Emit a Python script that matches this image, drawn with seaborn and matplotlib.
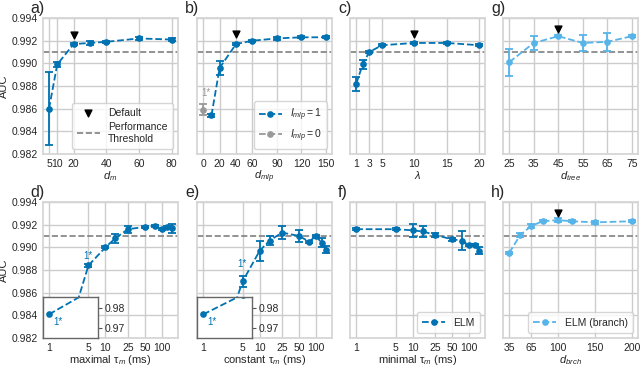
import matplotlib
matplotlib.use("Agg")
import numpy as np
import pandas as pd
import seaborn as sns
import matplotlib.pyplot as plt
from matplotlib.ticker import NullLocator

# ---- data ----
# a) d_m
a_x = [5, 10, 20, 30, 40, 60, 80]
a_y = [0.9860, 0.9899, 0.9917, 0.9918, 0.9919, 0.9922, 0.9921]
a_err = [0.0032, 0.0002, 0.0001, 0.0002, 0.0001, 0.0001, 0.0001]

# b) d_mlp, I_mlp = 1 and I_mlp = 0
b_x = [10, 20, 40, 60, 90, 120, 150]
b_y = [0.9854, 0.9896, 0.9917, 0.9920, 0.9922, 0.9923, 0.9923]
b_err = [0.0001, 0.0006, 0.0001, 0.0001, 0.0001, 0.0001, 0.0001]
b0_x = [0]
b0_y = [0.9859]
b0_err = [0.0005]

# c) lambda
c_x = [1, 2, 3, 5, 10, 15, 20]
c_y = [0.9882, 0.9899, 0.9910, 0.9916, 0.9918, 0.9918, 0.9916]
c_err = [0.0006, 0.0004, 0.0001, 0.0001, 0.0001, 0.0001, 0.0001]

# g) d_tree
g_x = [25, 35, 45, 55, 65, 75]
g_y = [0.9901, 0.9918, 0.9924, 0.9918, 0.9919, 0.9924]
g_err = [0.0012, 0.0006, 0.0001, 0.0007, 0.0008, 0.0001]

# d) e) f) tau_m (ms)
tau_x = [1, 5, 10, 15, 25, 50, 75, 100, 125, 150]
d_y = [0.9770, 0.9884, 0.9900, 0.9908, 0.9916, 0.9918, 0.9919, 0.9916, 0.9918, 0.9917]
d_err = [0.0001, 0.0001, 0.0001, 0.0004, 0.0003, 0.0001, 0.0001, 0.0001, 0.0001, 0.0004]
e_y = [0.9770, 0.9870, 0.9897, 0.9906, 0.9913, 0.9910, 0.9905, 0.9910, 0.9904, 0.9898]
e_err = [0.0001, 0.0005, 0.0009, 0.0004, 0.0006, 0.0005, 0.0001, 0.0001, 0.0004, 0.0003]
f_y = [0.9916, 0.9916, 0.9915, 0.9914, 0.9911, 0.9907, 0.9906, 0.9902, 0.9902, 0.9897]
f_err = [0.0001, 0.0001, 0.0006, 0.0005, 0.0002, 0.0001, 0.0008, 0.0001, 0.0001, 0.0003]

# h) d_brch
h_x = [35, 50, 65, 80, 100, 120, 150, 200]
h_y = [0.9895, 0.9911, 0.9919, 0.9923, 0.9924, 0.9923, 0.9922, 0.9923]
h_err = [0.0001, 0.0002, 0.0002, 0.0001, 0.0002, 0.0001, 0.0001, 0.0001]

# default settings (triangle markers)
default_x = {"a": 20, "b": 40, "c": 10, "g": 45, "h": 100}
default_y = {"a": 0.9925, "b": 0.9926, "c": 0.9926, "g": 0.9930, "h": 0.9930}

threshold = 0.991

# ---- style ----
sns.set_theme(style="whitegrid")
plt.rcParams["font.family"] = ["Liberation Sans", "DejaVu Sans"]
plt.rcParams["mathtext.fontset"] = "custom"
plt.rcParams["mathtext.rm"] = "Liberation Sans"
plt.rcParams["mathtext.it"] = "Liberation Sans:italic"

blue = "#0072B2"
light = "#56B4E9"
grey = "#999999"

fig = plt.figure(figsize=(6.4, 3.65), dpi=100)
w, h = 0.211, 0.3726
lefts = [0.067, 0.308, 0.547, 0.786]
top_b, bot_b = 0.578, 0.074

axes = {}
for name, l in zip(["a", "b", "c", "g"], lefts):
    axes[name] = fig.add_axes([l, top_b, w, h])
for name, l in zip(["d", "e", "f", "h"], lefts):
    axes[name] = fig.add_axes([l, bot_b, w, h])


def draw(ax, x, y, err, color, label=None, ms=4.8):
    ax.errorbar(x, y, yerr=err, fmt="none", ecolor=color, elinewidth=1.3,
                capsize=2.6, capthick=1.3, zorder=3)
    sns.lineplot(x=x, y=y, ax=ax, color=color, marker="o", markersize=ms,
                 markeredgewidth=0, linestyle="--", linewidth=1.3,
                 label=label, zorder=4)


draw(axes["a"], a_x, a_y, a_err, blue)
draw(axes["b"], b_x, b_y, b_err, blue, label="$I_{mlp} = 1$")
draw(axes["b"], b0_x, b0_y, b0_err, grey, label="$I_{mlp} = 0$")
draw(axes["c"], c_x, c_y, c_err, blue)
draw(axes["g"], g_x, g_y, g_err, light)
draw(axes["d"], tau_x, d_y, d_err, blue)
draw(axes["e"], tau_x, e_y, e_err, blue)
draw(axes["f"], tau_x, f_y, f_err, blue, label="ELM")
draw(axes["h"], h_x, h_y, h_err, light, label="ELM (branch)")

yt = np.arange(0.982, 0.9945, 0.002)
for name, ax in axes.items():
    ax.axhline(threshold, color="#808080", linestyle="--", linewidth=1.2,
               zorder=2, label="Performance\nThreshold" if name == "a" else None)
    if name in default_x:
        ax.scatter([default_x[name]], [default_y[name]], marker="v", color="black",
                   s=24, zorder=5, label="Default" if name == "a" else None)
    ax.set_ylim(0.982, 0.994)
    ax.set_yticks(yt)
    ax.tick_params(labelsize=7.5, length=0, pad=3.5)
    for sp in ax.spines.values():
        sp.set_color("#d5d5d5")
    if name in ("a", "d"):
        ax.set_yticklabels([f"{v:.3f}" for v in yt])
        ax.set_ylabel("AUC", fontsize=8)
        ax.yaxis.set_label_coords(-0.25, 0.5)
    else:
        ax.tick_params(labelleft=False)
    ax.text(-0.09, 1.012, name + ")", transform=ax.transAxes, fontsize=11.5,
            ha="left", va="bottom")

xl_kw = dict(fontsize=8, labelpad=0)
axes["a"].set_xticks([5, 10, 20, 40, 60, 80])
axes["a"].set_xlabel("$d_m$", **xl_kw)
axes["b"].set_xticks([0, 20, 40, 60, 90, 120, 150])
axes["b"].set_xlabel("$d_{mlp}$", **xl_kw)
axes["c"].set_xticks([1, 3, 5, 10, 15, 20])
axes["c"].set_xlabel("$\\lambda$", **xl_kw)
axes["g"].set_xticks([25, 35, 45, 55, 65, 75])
axes["g"].set_xlabel("$d_{tree}$", **xl_kw)
axes["h"].set_xticks([35, 65, 100, 150, 200])
axes["h"].set_xlabel("$d_{brch}$", **xl_kw)

tau_ticks = [1, 5, 10, 25, 50, 100]
for name, lab in zip(["d", "e", "f"], ["maximal", "constant", "minimal"]):
    ax = axes[name]
    ax.set_xscale("log")
    ax.set_xticks(tau_ticks)
    ax.set_xticklabels([str(t) for t in tau_ticks])
    ax.xaxis.set_minor_locator(NullLocator())
    ax.set_xlabel(lab + " τ$_m$ (ms)", **xl_kw)

# legends
leg_kw = dict(fontsize=7.5, loc="lower right", frameon=True, handlelength=2.2,
              borderpad=0.5, labelspacing=0.4)
h_a, l_a = axes["a"].get_legend_handles_labels()
order = [l_a.index("Default"), l_a.index("Performance\nThreshold")]
axes["a"].legend([h_a[i] for i in order], [l_a[i] for i in order], **leg_kw)
for name in ["b", "f", "h"]:
    axes[name].legend(**leg_kw)

# broken-axis insets for the 1 ms points
for name, ylst in [("d", d_y), ("e", e_y)]:
    ax = axes[name]
    x0, x1 = ax.get_xlim()
    frac = 0.407
    ins = ax.inset_axes([0, 0, frac, 0.30], zorder=6)
    ins.set_facecolor("white")
    ins.set_xscale("log")
    ins.set_xlim(x0, 10 ** (np.log10(x0) + frac * (np.log10(x1) - np.log10(x0))))
    ins.set_ylim(0.965, 0.9857)
    sns.lineplot(x=tau_x, y=ylst, ax=ins, color=blue, marker="o", markersize=4.8,
                 markeredgewidth=0, linestyle="--", linewidth=1.3)
    ins.grid(False)
    ins.set_xticks([])
    ins.xaxis.set_minor_locator(NullLocator())
    ins.set_yticks([0.97, 0.98])
    ins.set_yticklabels(["0.97", "0.98"])
    ins.yaxis.tick_right()
    ins.tick_params(axis="y", right=True, length=3, width=0.8, color="#555555",
                    labelsize=7.5, pad=2)
    ins.set_xlabel("")
    ins.set_ylabel("")
    for sp in ins.spines.values():
        sp.set_color("#666666")
        sp.set_linewidth(1.0)
    ins.text(1.18, 0.9732, "1*", color=blue, fontsize=7, ha="left", va="center")

axes["d"].text(4.9, 0.9892, "1*", color=blue, fontsize=7, ha="center", va="center")
axes["e"].text(4.9, 0.9885, "1*", color=blue, fontsize=7, ha="center", va="center")
axes["b"].text(3, 0.9874, "1*", color=grey, fontsize=7, ha="center", va="center")

fig.savefig("out.png", dpi=100)
